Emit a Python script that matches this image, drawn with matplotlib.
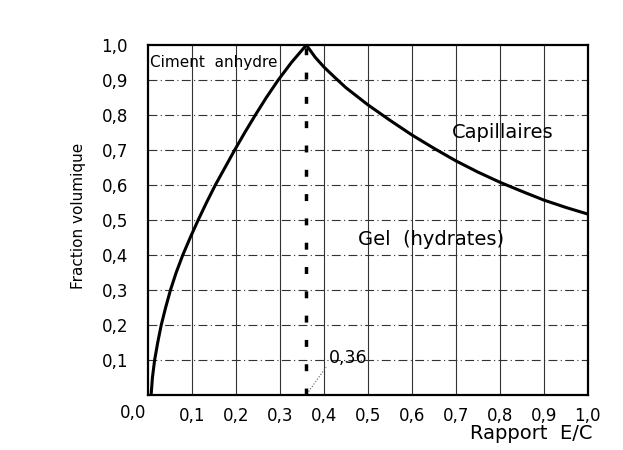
import matplotlib.pyplot as plt

# courbe de Powers : fraction volumique en fonction du rapport E/C
rise_x = [0.007, 0.010, 0.015, 0.022, 0.030, 0.040, 0.051, 0.064, 0.079, 0.096,
          0.114, 0.133, 0.153, 0.175, 0.197, 0.220, 0.244, 0.269, 0.296, 0.326, 0.36]
rise_y = [0.0, 0.05, 0.10, 0.15, 0.20, 0.25, 0.30, 0.35, 0.40, 0.45,
          0.50, 0.55, 0.60, 0.65, 0.70, 0.75, 0.80, 0.85, 0.90, 0.95, 1.0]
fall_x = [0.36, 0.38, 0.40, 0.425, 0.45, 0.50, 0.55, 0.60, 0.65,
          0.70, 0.75, 0.80, 0.85, 0.90, 0.95, 1.0]
fall_y = [1.0, 0.965, 0.937, 0.907, 0.878, 0.829, 0.785, 0.743, 0.705,
          0.669, 0.637, 0.608, 0.582, 0.557, 0.536, 0.517]

ec_peak = 0.36
x_ticks = [0.1, 0.2, 0.3, 0.4, 0.5, 0.6, 0.7, 0.8, 0.9, 1.0]
y_ticks = [0.1, 0.2, 0.3, 0.4, 0.5, 0.6, 0.7, 0.8, 0.9, 1.0]

plt.rcParams['font.family'] = ['DejaVu Sans']

fig = plt.figure(figsize=(6.23, 4.5), dpi=100)
ax = fig.add_axes([0.2376, 0.122, 0.706, 0.778])

# grille
for x in x_ticks[:-1]:
    ax.axvline(x, color='#333333', lw=0.8, zorder=1)
for y in y_ticks[:-1]:
    ax.axhline(y, color='#333333', lw=0.8, ls=(0, (8, 3, 1, 3)), zorder=1)

ax.plot(rise_x, rise_y, color='black', lw=2.2, zorder=3)
ax.plot(fall_x, fall_y, color='black', lw=2.2, zorder=3)
ax.plot([ec_peak, ec_peak], [0, 1.0], color='black', lw=2.5,
        ls=(0, (2, 5)), zorder=3)
ax.plot([ec_peak + 0.005, ec_peak + 0.045], [0.01, 0.08], color='#555555',
        lw=0.8, ls=':', zorder=3)

ax.text(0.005, 0.937, 'Ciment  anhydre', fontsize=11, va='baseline', ha='left')
ax.text(0.807, 0.734, 'Capillaires', fontsize=14, va='baseline', ha='center')
ax.text(0.643, 0.429, 'Gel  (hydrates)', fontsize=14, va='baseline', ha='center')
ax.text(0.411, 0.091, '0,36', fontsize=12.5, va='baseline', ha='left')

ax.set_xlim(0, 1.0)
ax.set_ylim(0, 1.0)
ax.set_xticks(x_ticks)
ax.set_xticklabels([f'{v:.1f}'.replace('.', ',') for v in x_ticks], fontsize=12)
ax.set_yticks(y_ticks)
ax.set_yticklabels([f'{v:.1f}'.replace('.', ',') for v in y_ticks], fontsize=12)
ax.tick_params(axis='x', length=0, pad=8.5)
ax.tick_params(axis='y', length=0, pad=14.5)
ax.text(-0.034, -0.051, '0,0', fontsize=12, ha='center', va='center',
        transform=ax.transAxes)

ax.text(-0.159, 0.511, 'Fraction volumique', fontsize=11, rotation=90,
        ha='center', va='center', transform=ax.transAxes)
ax.text(1.011, -0.109, 'Rapport  E/C', fontsize=14, ha='right', va='center',
        transform=ax.transAxes)

for s in ax.spines.values():
    s.set_linewidth(1.6)

fig.savefig('out.png', dpi=100)
